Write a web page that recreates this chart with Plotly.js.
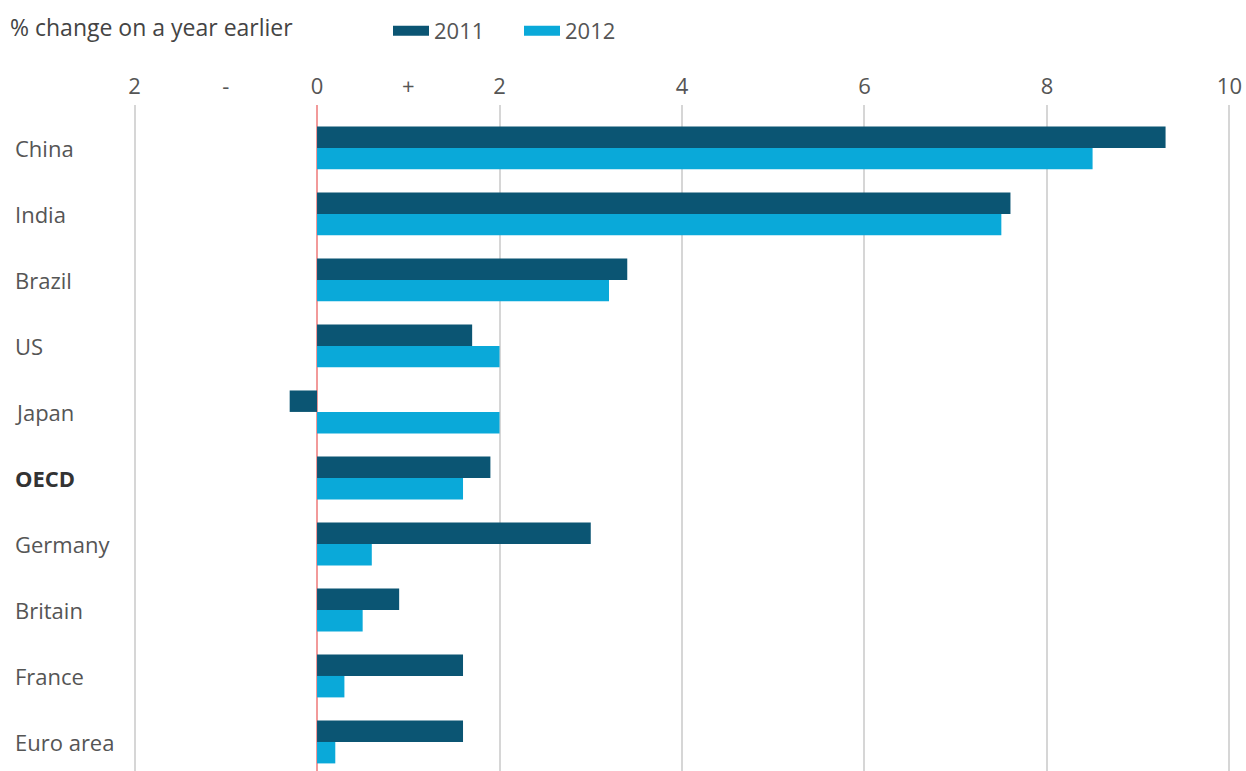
<!DOCTYPE html>
<html>
<head>
<meta charset="utf-8">
<script src="https://cdn.plot.ly/plotly-3.0.1.min.js"></script>
<style>html,body{margin:0;padding:0;background:#fff;}#chart{width:1246px;height:771px;}</style>
</head>
<body>
<div id="chart"></div>
<script>
const categories = ["China","India","Brazil","US","Japan","OECD","Germany","Britain","France","Euro area"];
const values2011 = [9.3, 7.6, 3.4, 1.7, -0.3, 1.9, 3.0, 0.9, 1.6, 1.6];
const values2012 = [8.5, 7.5, 3.2, 2.0, 2.0, 1.6, 0.6, 0.5, 0.3, 0.2];
const seriesNames = ["2011","2012"];
const xTickVals = [-2, 0, 2, 4, 6, 8, 10];
const xTickText = ["2", "0", "2", "4", "6", "8", "10"];
const signTickVals = [-1, 1];
const signTickText = ["-", "+"];
const titleText = "% change on a year earlier";

const FONT = "Open Sans, DejaVu Sans, sans-serif";
const colors = ["#0b5573", "#0aa9d9"];
const ML = 130, MR = 12;
const PLOT_W = 1246 - ML - MR;

const traces = [
  {type:"bar", orientation:"h", name:seriesNames[0], y:categories, x:values2011,
   marker:{color:colors[0]}, showlegend:false},
  {type:"bar", orientation:"h", name:seriesNames[1], y:categories, x:values2012,
   marker:{color:colors[1]}, showlegend:false},
  // legend-only entries (wide swatches)
  {type:"scatter", mode:"lines", name:seriesNames[0], x:[null], y:[null],
   line:{color:colors[0], width:16}},
  {type:"scatter", mode:"lines", name:seriesNames[1], x:[null], y:[null],
   line:{color:colors[1], width:16}},
  {type:"scatter", mode:"markers", x:signTickVals, y:[categories[0],categories[0]],
   xaxis:"x2", marker:{opacity:0}, showlegend:false, hoverinfo:"skip"}
];

const annotations = categories.map(c => ({
  xref:"paper", yref:"y", x:-117/PLOT_W, y:c, xanchor:"left", yanchor:"middle",
  text: c === "OECD" ? "<b>"+c+"</b>" : c, showarrow:false,
  font:{family:FONT, size:22, color: c === "OECD" ? "#333" : "#555"}
}));

const layout = {
  width:1246, height:771,
  paper_bgcolor:"#fff", plot_bgcolor:"#fff",
  margin:{l:ML, r:MR, t:105, b:0},
  barmode:"group", bargap:0.35, bargroupgap:0,
  showlegend:true,
  legend:{orientation:"h", x:(388-ML)/PLOT_W, xanchor:"left", y:1 + (105-10)/666, yanchor:"top",
          font:{family:FONT, size:22, color:"#555"}, traceorder:"normal",
          itemwidth:36, entrywidth:80, entrywidthmode:"pixels", bgcolor:"rgba(0,0,0,0)"},
  title:{text:titleText, x:10/1246, xanchor:"left", xref:"container", y:1-28/771, yref:"container", yanchor:"middle",
         font:{family:FONT, size:23, color:"#444"}},
  xaxis:{side:"top", range:[-2.05,10.05], tickvals:xTickVals, ticktext:xTickText,
         showgrid:true, gridcolor:"#d6d6d6", gridwidth:2,
         zeroline:true, zerolinecolor:"#f29a9a", zerolinewidth:2,
         ticks:"", ticklabelstandoff:6, ticklabeloverflow:"allow", showline:false, fixedrange:true,
         tickfont:{family:FONT, size:22, color:"#555"}},
  xaxis2:{overlaying:"x", side:"top", range:[-2.05,10.05], tickvals:signTickVals, ticktext:signTickText,
          showgrid:false, zeroline:false, ticks:"", ticklabelstandoff:6, showline:false,
          tickfont:{family:FONT, size:22, color:"#555"}},
  yaxis:{autorange:false, range:[9.44, -0.65], showticklabels:false, showgrid:false,
         zeroline:false, ticks:"", fixedrange:true},
  annotations: annotations
};

Plotly.newPlot("chart", traces, layout, {displayModeBar:false, staticPlot:true});
</script>
</body>
</html>
